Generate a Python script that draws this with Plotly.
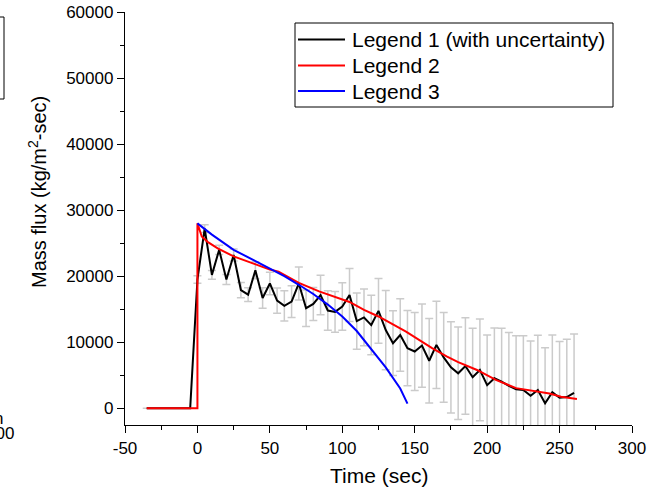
import plotly.graph_objects as go

# ---- data ----
time_1 = [-35, -5] + list(range(0, 261, 5))
flux_1 = [0, 0,
          19500, 27200, 20200, 24000, 19500, 23200, 17900, 17200, 20900, 16700,
          18900, 16300, 15500, 16150, 18900, 15150, 15800, 17150, 14800, 14600,
          15400, 17150, 13200, 13750, 12600, 14750, 11850, 9850, 11100, 9100,
          8600, 9500, 7200, 9600, 7700, 6200, 5300, 6400, 4700, 5800,
          3500, 4550, 4030, 3380, 2880, 2770, 1900, 2770, 760, 2450,
          1600, 1700, 2350]
err_1 = [None, None,
         550, 600, 650, 700, 750, 900, 1150, 1050, 1300, 1550,
         1700, 1900, 2300, 2400, 2500, 2750, 2500, 3000, 3000, 3100,
         3600, 4000, 4250, 4300, 4500, 4900, 6000, 4900, 5500, 5700,
         5900, 6300, 6400, 6600, 6800, 6900, 7000, 7300, 7400, 7700,
         7600, 7600, 8100, 8100, 8100, 8200, 8300, 8300, 8400, 8650,
         8500, 8750, 8900]

time_2 = [-35, 0, 0, 3, 7, 14, 25, 39, 50, 56, 70, 84, 105, 115, 125, 144,
          162, 172, 180, 193, 206, 220, 234, 243, 251, 262]
flux_2 = [0, 0, 28000, 26000, 25200, 24200, 23000, 21850, 21000, 20700, 19000,
          17700, 16100, 14900, 13900, 11600, 9100, 7850, 7000, 5800, 4300,
          3050, 2500, 2250, 1750, 1400]

time_3 = [0, 10, 25, 40, 50, 60, 70, 80, 90, 100, 110, 120, 130, 140, 145]
flux_3 = [28000, 26300, 24000, 22300, 21200, 20000, 18700, 17300, 15700,
          13900, 11700, 9000, 6200, 3000, 700]

names = ["Legend 1 (with uncertainty)", "Legend 2", "Legend 3"]
colors = ["#000000", "#ff0000", "#0000ff"]
x_ticks = [-50, 0, 50, 100, 150, 200, 250, 300]
y_ticks = [0, 10000, 20000, 30000, 40000, 50000, 60000]

FONT = "Arial, Liberation Sans, sans-serif"
W, H = 652, 491
L, R, T, B = 125, 20, 12, 66
pw, ph = W - L - R, H - T - B


def px2paper_x(px):
    return (px - L) / pw


def px2paper_y(py):
    return (H - B - py) / ph


fig = go.Figure()
fig.add_trace(go.Scatter(
    x=time_1, y=flux_1, mode="lines", name=names[0],
    line=dict(color=colors[0], width=2),
    error_y=dict(type="data", array=err_1, visible=True,
                 color="#cbcbcb", thickness=1.5, width=4)))
fig.add_trace(go.Scatter(
    x=time_2, y=flux_2, mode="lines", name=names[1],
    line=dict(color=colors[1], width=2)))
fig.add_trace(go.Scatter(
    x=time_3, y=flux_3, mode="lines", name=names[2],
    line=dict(color=colors[2], width=2)))

axis_common = dict(showline=True, linecolor="black", linewidth=1.3,
                   showgrid=False, zeroline=False, ticks="outside",
                   ticklen=7, tickwidth=1.3, tickcolor="black",
                   tickfont=dict(family=FONT, size=17, color="black"),
                   mirror=False, automargin=False)

fig.update_xaxes(range=[-50, 300], tickvals=x_ticks,
                 ticktext=[str(v) for v in x_ticks],
                 minor=dict(dtick=25, ticklen=4, tickcolor="black",
                            ticks="outside", tickwidth=1.3),
                 **axis_common)
fig.update_yaxes(range=[-2530, 60000], tickvals=y_ticks,
                 ticktext=[str(v) for v in y_ticks],
                 minor=dict(dtick=5000, ticklen=4, tickcolor="black",
                            ticks="outside", tickwidth=1.3),
                 **axis_common)

# legend box drawn to match the reference's compact layout
leg_left, leg_right, leg_top, leg_bottom = 295, 613, 23, 107
row_y = [39.5, 65.5, 91]
shapes = [
    dict(type="rect", xref="paper", yref="paper",
         x0=px2paper_x(leg_left), x1=px2paper_x(leg_right),
         y0=px2paper_y(leg_bottom), y1=px2paper_y(leg_top),
         line=dict(color="black", width=1), fillcolor="white", layer="above"),
    dict(type="rect", xref="paper", yref="paper",
         x0=px2paper_x(-60), x1=px2paper_x(4),
         y0=px2paper_y(99), y1=px2paper_y(17),
         line=dict(color="black", width=1), fillcolor="rgba(0,0,0,0)"),
]
annotations = [
    dict(text="Time (sec)", xref="paper", yref="paper",
         x=0.5, y=px2paper_y(475), xanchor="center", yanchor="middle",
         showarrow=False, font=dict(family=FONT, size=21, color="black")),
    dict(text="Mass flux (kg/m<sup>2</sup>-sec)", xref="paper",
         yref="paper", x=px2paper_x(37), y=px2paper_y(192),
         xanchor="center", yanchor="middle", textangle=-90,
         showarrow=False, font=dict(family=FONT, size=20, color="black")),
    dict(text="n", xref="paper", yref="paper",
         x=px2paper_x(5), y=px2paper_y(418), xanchor="right",
         yanchor="middle", showarrow=False,
         font=dict(family=FONT, size=17, color="black")),
    dict(text="300", xref="paper", yref="paper",
         x=px2paper_x(16), y=px2paper_y(433), xanchor="right",
         yanchor="middle", showarrow=False,
         font=dict(family=FONT, size=17, color="black")),
]
for name, col, ry in zip(names, colors, row_y):
    shapes.append(dict(type="line", xref="paper", yref="paper",
                       x0=px2paper_x(298), x1=px2paper_x(345),
                       y0=px2paper_y(ry), y1=px2paper_y(ry),
                       line=dict(color=col, width=2), layer="above"))
    annotations.append(dict(text=name, xref="paper", yref="paper",
                            x=px2paper_x(350), y=px2paper_y(ry),
                            xanchor="left", yanchor="middle",
                            showarrow=False,
                            font=dict(family=FONT, size=21, color="black")))

fig.update_layout(
    width=W, height=H,
    margin=dict(l=L, r=R, t=T, b=B, autoexpand=False),
    paper_bgcolor="white", plot_bgcolor="white",
    font=dict(family=FONT, color="black"),
    showlegend=False,
    annotations=annotations,
    shapes=shapes,
)

fig.write_html("out.html",
               config={"displayModeBar": False},
               post_script="document.body.style.margin='0px';"
                           "document.body.style.overflow='hidden';")
